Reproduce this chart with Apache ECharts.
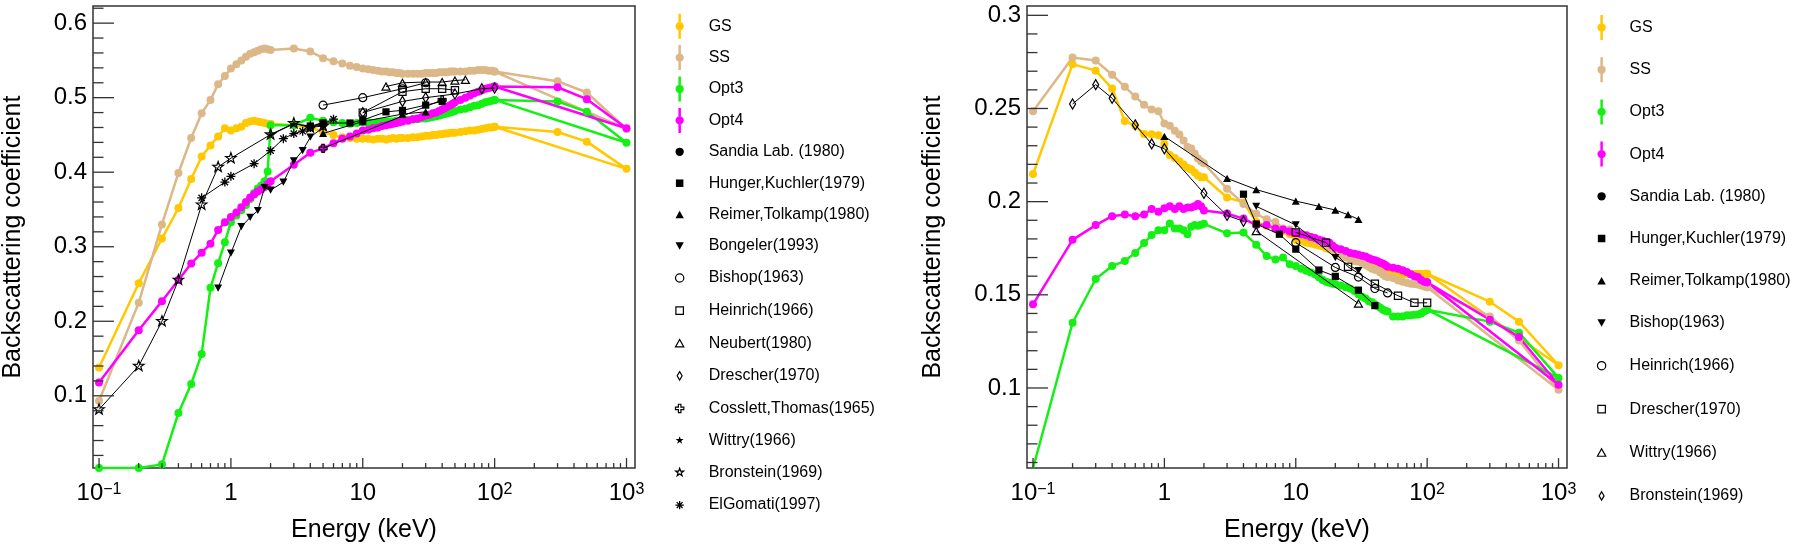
<!DOCTYPE html>
<html><head><meta charset="utf-8">
<script src="https://cdn.jsdelivr.net/npm/echarts@6/dist/echarts.min.js"></script>
<style>html,body{margin:0;padding:0;background:#fff}#c{width:1800px;height:548px}</style>
</head><body><div id="c"></div><script>
// ---------------- DATA ----------------
// Energy grid (keV) shared by the simulated curves
const energy = [0.1,0.2,0.3,0.4,0.5,0.6,0.7,0.8,0.9,
  1.0,1.1,1.2,1.3,1.4,1.5,1.6,1.7,1.8,1.9,
  2,3,4,5,6,7,8,9,
  10,11,12,13,14,15,16,17,18,19,20,
  22,24,26,28,30,32,34,36,38,40,42,44,46,48,50,
  55,60,65,70,75,80,85,90,95,100,
  300,500,1000];
const seriesNames = ['GS','SS','Opt3','Opt4'];

// Left panel (simulated)
const gsLeft = [0.138,0.251,0.311,0.352,0.391,0.421,0.436,0.448,0.459,
  0.456,0.459,0.461,0.466,0.468,0.469,0.468,0.467,0.466,0.465,
  0.465,0.463,0.460,0.454,0.450,0.447,0.446,0.445,
  0.445,0.445,0.444,0.445,0.445,0.444,0.445,0.446,0.445,0.446,0.446,
  0.446,0.447,0.447,0.448,0.449,0.449,0.450,0.450,0.451,0.451,0.452,0.452,0.453,0.453,0.453,
  0.454,0.455,0.456,0.456,0.457,0.458,0.459,0.460,0.460,0.461,
  0.454,0.441,0.4045];
const ssLeft = [0.093,0.225,0.330,0.399,0.446,0.479,0.497,0.518,0.529,
  0.539,0.545,0.550,0.555,0.559,0.561,0.563,0.565,0.566,0.565,
  0.564,0.566,0.562,0.553,0.549,0.546,0.543,0.541,
  0.539,0.538,0.537,0.536,0.535,0.535,0.534,0.534,0.533,0.533,0.532,
  0.532,0.532,0.532,0.532,0.533,0.533,0.533,0.533,0.534,0.534,0.534,0.534,0.535,0.535,0.535,
  0.535,0.535,0.536,0.536,0.537,0.537,0.537,0.536,0.536,0.535,
  0.522,0.507,0.458];
const opt3Left = [0.003,0.003,0.008,0.077,0.116,0.156,0.245,0.278,0.306,
  0.333,0.342,0.349,0.356,0.364,0.372,0.378,0.382,0.388,0.401,
  0.463,0.463,0.473,0.469,0.467,0.466,0.465,0.466,
  0.467,0.467,0.466,0.467,0.467,0.468,0.468,0.468,0.469,0.469,0.470,
  0.470,0.471,0.471,0.472,0.472,0.473,0.474,0.475,0.476,0.477,0.478,0.479,0.480,0.481,0.482,
  0.484,0.485,0.487,0.489,0.490,0.492,0.494,0.495,0.496,0.497,
  0.495,0.481,0.4395];
const opt4Left = [0.118,0.188,0.227,0.2555,0.2775,0.292,0.304,0.3225,0.333,
  0.340,0.346,0.353,0.360,0.366,0.370,0.374,0.377,0.380,0.384,
  0.388,0.410,0.426,0.432,0.439,0.445,0.448,0.452,
  0.456,0.457,0.459,0.460,0.462,0.463,0.464,0.465,0.466,0.467,0.468,
  0.469,0.471,0.472,0.474,0.476,0.477,0.479,0.480,0.482,0.484,0.486,0.488,0.490,0.492,0.494,
  0.497,0.500,0.503,0.506,0.508,0.510,0.512,0.513,0.514,0.515,
  0.514,0.498,0.459];

// Right panel (simulated)
const gsRight = [0.2148,0.2738,0.2703,0.2607,0.2433,0.2407,0.2363,0.2362,0.2357,
  0.231,0.225,0.2234,0.2217,0.220,0.2182,0.2174,0.2157,0.214,0.2131,
  0.2131,0.2022,0.1996,0.1891,0.187,0.1856,0.184,0.1825,
  0.1795,0.179,0.178,0.1775,0.177,0.1765,0.176,0.175,0.1745,0.174,0.1734,
  0.173,0.172,0.171,0.170,0.169,0.168,0.1675,0.167,0.166,0.165,0.1645,0.164,0.1635,0.163,0.1625,
  0.162,0.1615,0.161,0.161,0.1612,0.1612,0.1613,0.1613,0.1613,0.1613,
  0.1463,0.1356,0.1122];
const ssRight = [0.2485,0.2774,0.2757,0.2681,0.2616,0.2564,0.252,0.2494,0.2485,
  0.2419,0.2407,0.238,0.236,0.2328,0.2293,0.2285,0.2258,0.2232,0.2215,
  0.2206,0.2069,0.1988,0.1935,0.1905,0.1891,0.1856,0.185,
  0.1835,0.1825,0.1815,0.181,0.180,0.1785,0.1775,0.177,0.176,0.1745,0.1725,
  0.1715,0.170,0.169,0.168,0.1677,0.167,0.166,0.165,0.164,0.1635,0.163,0.162,0.161,0.160,0.1595,
  0.159,0.1577,0.157,0.1565,0.156,0.1558,0.1555,0.155,0.1545,0.154,
  0.1384,0.1255,0.099];
const opt3Right = [0.0569,0.135,0.1585,0.1655,0.1681,0.1725,0.1778,0.1821,0.1847,
  0.1847,0.1883,0.1856,0.1856,0.1847,0.1825,0.1865,0.1874,0.1870,0.1876,
  0.1881,0.183,0.1834,0.1769,0.1708,0.169,0.170,0.1664,
  0.1655,0.164,0.1629,0.162,0.161,0.1594,0.158,0.157,0.1565,0.156,0.1558,
  0.155,0.154,0.1533,0.152,0.1503,0.149,0.148,0.1466,0.146,0.145,0.144,0.143,0.142,0.1415,0.141,
  0.1384,0.1384,0.1384,0.139,0.139,0.1393,0.1395,0.140,0.141,0.142,
  0.1356,0.1297,0.1054];
const opt4Right = [0.1449,0.1795,0.1874,0.1922,0.1931,0.1922,0.1931,0.196,0.1946,
  0.1964,0.1975,0.196,0.1975,0.196,0.1968,0.1968,0.1975,0.1987,0.1975,
  0.1953,0.1936,0.1909,0.1874,0.1874,0.1856,0.185,0.184,
  0.183,0.1825,0.182,0.181,0.1805,0.1795,0.179,0.1785,0.178,0.1765,0.1752,
  0.1745,0.1735,0.1725,0.172,0.1715,0.171,0.1705,0.1696,0.169,0.1685,0.168,0.1672,0.1668,0.166,0.165,
  0.1645,0.164,0.1632,0.1622,0.161,0.160,0.1595,0.158,0.157,0.1567,
  0.1366,0.1274,0.1017];

// Experimental, left panel [E (keV), coefficient]
const sandiaL   = [];
const hungerL   = [[4,0.462],[5,0.466],[8,0.466],[10,0.470],[15,0.481],[20,0.483],[30,0.490],[40,0.495]];
const reimerL   = [[5,0.452],[10,0.468],[20,0.478],[30,0.481]];
const bongelerL = [[0.8,0.2445],[1.0,0.2913],[1.2,0.327],[1.4,0.3394],[1.6,0.3486],[1.8,0.3794],[2,0.376],[2.5,0.3867],[3,0.4151],[3.5,0.4289],[4,0.447],[5,0.460]];
const bishopL   = [[5,0.490],[10,0.500],[20,0.512],[30,0.520]];
const heinrichL = [[10,0.480],[20,0.508],[30,0.512],[40,0.512],[50,0.510]];
const neubertL  = [[15,0.515],[20,0.520],[30,0.521],[40,0.521],[50,0.523],[60,0.524]];
const drescherL = [[10,0.480],[20,0.495],[30,0.500],[50,0.505],[80,0.512],[100,0.513]];
const cosslettL = [[5,0.432],[40,0.497]];
const wittryL   = [[2,0.450],[3,0.465],[4,0.462]];
const bronsteinL= [[0.1,0.0817],[0.2,0.140],[0.3,0.200],[0.4,0.2555],[0.6,0.3564],[0.8,0.4069],[1.0,0.4188],[2,0.4505],[3,0.4656],[4,0.460],[5,0.462]];
const elgomatiL = [[0.6,0.3656],[0.9,0.3867],[1.0,0.3945],[1.5,0.4115],[2,0.4289],[2.5,0.445],[3,0.4518],[3.5,0.455],[4,0.460],[5,0.465],[6,0.4711]];

// Experimental, right panel
const sandiaR   = [];
const hungerR   = [[4,0.204],[5,0.188],[7.5,0.1825],[10,0.1745],[15,0.1633],[20,0.1599],[30,0.1525],[40,0.1442]];
const reimerR   = [[1,0.235],[3,0.2125],[5,0.2065],[10,0.2003],[15,0.1975],[20,0.1955],[25,0.193],[30,0.1905]];
const bishopR   = [[5,0.1975],[10,0.1875],[20,0.170],[30,0.163]];
const heinrichR = [[10,0.178],[20,0.1647],[30,0.1595],[40,0.1534],[50,0.151]];
const drescherR = [[10,0.1835],[17,0.178],[25,0.165],[40,0.156],[60,0.1495],[80,0.1457],[100,0.1457]];
const wittryR   = [[5,0.1842],[30,0.1453]];
const bronsteinR= [[0.2,0.2524],[0.3,0.2628],[0.4,0.2555],[0.6,0.2412],[0.8,0.231],[1,0.2284],[2,0.2045],[3,0.1926],[4,0.1895]];

// Axis tick labels / ranges
const xMajorTicks = [0.1, 1, 10, 100, 1000];
const yLeftMajor  = [0.1, 0.2, 0.3, 0.4, 0.5, 0.6];
const yRightMajor = [0.1, 0.15, 0.2, 0.25, 0.3];
const X_RANGE = [0.09, 1160];
const Y_LEFT = [0.003, 0.623];
const Y_RIGHT = [0.057, 0.305];

// ---------------- STYLE ----------------
const FONT = '"Liberation Sans", Arial, Helvetica, sans-serif';
const COLORS = {GS:'#ffc800', SS:'#dcb788', Opt3:'#14f014', Opt4:'#ff00ff'};
const FRAME = 'M0,0M10,10';
const SHAPE = {
  circle:  'M0,5A5,5 0 1,1 10,5A5,5 0 1,1 0,5Z',
  square:  'M0.5,0.5H9.5V9.5H0.5Z',
  triUp:   'M5,0.5L10,9.5L0,9.5Z',
  triDown: 'M0,0.5L10,0.5L5,9.5Z',
  diamond: 'M5,0L8,5L5,10L2,5Z',
  cross:   'M3.5,0H6.5V3.5H10V6.5H6.5V10H3.5V6.5H0V3.5H3.5Z',
  star:    'M5,0L6.18,3.38L9.76,3.45L6.9,5.62L7.94,9.05L5,7L2.06,9.05L3.1,5.62L0.24,3.45L3.82,3.38Z',
  aster:   'M5,0V10M0,5H10M1.5,1.5L8.5,8.5M8.5,1.5L1.5,8.5'
};
const LEG_FRAME = 'M-1,-10M11,20';
const ERRBAR = 'M3.5,-10H6.5V0H3.5Z M3.5,10H6.5V20H3.5Z ';

const expLeft = [
  ['Sandia Lab. (1980)', sandiaL, 'circle', 'fill', 8],
  ['Hunger,Kuchler(1979)', hungerL, 'square', 'fill', 8],
  ['Reimer,Tolkamp(1980)', reimerL, 'triUp', 'fill', 8],
  ['Bongeler(1993)', bongelerL, 'triDown', 'fill', 8],
  ['Bishop(1963)', bishopL, 'circle', 'open', 8],
  ['Heinrich(1966)', heinrichL, 'square', 'open', 8],
  ['Neubert(1980)', neubertL, 'triUp', 'open', 8],
  ['Drescher(1970)', drescherL, 'diamond', 'open', 10],
  ['Cosslett,Thomas(1965)', cosslettL, 'cross', 'open', 8],
  ['Wittry(1966)', wittryL, 'star', 'fill', 7],
  ['Bronstein(1969)', bronsteinL, 'star', 'open', 11],
  ['ElGomati(1997)', elgomatiL, 'aster', 'line', 9]
];
const expRight = [
  ['Sandia Lab. (1980)', sandiaR, 'circle', 'fill', 8],
  ['Hunger,Kuchler(1979)', hungerR, 'square', 'fill', 8],
  ['Reimer,Tolkamp(1980)', reimerR, 'triUp', 'fill', 8],
  ['Bishop(1963)', bishopR, 'triDown', 'fill', 8],
  ['Heinrich(1966)', heinrichR, 'circle', 'open', 8],
  ['Drescher(1970)', drescherR, 'square', 'open', 8],
  ['Wittry(1966)', wittryR, 'triUp', 'open', 8],
  ['Bronstein(1969)', bronsteinR, 'diamond', 'open', 10]
];

function markStyle(kind) {
  if (kind === 'fill') return {color:'#000', borderWidth:0};
  if (kind === 'open') return {color:'rgba(0,0,0,0)', borderColor:'#000', borderWidth:1.2};
  return {color:'rgba(0,0,0,0)', borderColor:'#000', borderWidth:1.3};
}

const series = [];
const legendLeft = [], legendRight = [];

function addSim(g, valuesList, legendArr) {
  const loopBack = energy.indexOf(100);
  seriesNames.forEach((nm, k) => {
    const vals = valuesList[k];
    const data = energy.map((e, i) => [e, vals[i]]);
    data.push([energy[loopBack], vals[loopBack]]);
    series.push({
      name: nm, type:'line', xAxisIndex:g, yAxisIndex:g, data,
      symbol:'circle', symbolSize:8, showSymbol:true, z:3,
      lineStyle:{color:COLORS[nm], width:2.5}, itemStyle:{color:COLORS[nm]},
      emphasis:{disabled:true}
    });
    legendArr.push({name:nm, icon:'path://' + LEG_FRAME + ERRBAR + SHAPE.circle,
      itemStyle:{color:COLORS[nm], borderWidth:0}});
  });
}
function addExp(g, list, legendArr) {
  list.forEach(([nm, data, shp, kind, size]) => {
    series.push({
      name: nm, type:'line', xAxisIndex:g, yAxisIndex:g, data,
      symbol:'path://' + FRAME + SHAPE[shp], symbolSize:size, showSymbol:true, z:5,
      lineStyle:{color:'#000', width:1}, itemStyle:markStyle(kind),
      emphasis:{disabled:true}
    });
    legendArr.push({name:nm, icon:'path://' + LEG_FRAME + SHAPE[shp], itemStyle:markStyle(kind)});
  });
}
addSim(0, [gsLeft, ssLeft, opt3Left, opt4Left], legendLeft);
addExp(0, expLeft, legendLeft);
addSim(1, [gsRight, ssRight, opt3Right, opt4Right], legendRight);
addExp(1, expRight, legendRight);

// ticks drawn through the axes' own scales
const xMinorTicks = [];
[0.1, 1, 10, 100].forEach(d => { for (let k = 2; k <= 9; k++) xMinorTicks.push(+(k*d).toPrecision(3)); });
function minorList(from, to, step, majors) {
  const out = [];
  for (let v = from; v <= to + 1e-9; v += step) {
    const r = +v.toFixed(4);
    if (!majors.some(m => Math.abs(m - r) < 1e-9)) out.push(r);
  }
  return out;
}
const yLeftMinor = minorList(0.02, 0.62, 0.02, yLeftMajor);
const yRightMinor = minorList(0.06, 0.30, 0.01, yRightMajor);

function tickSeries(g, dir, values, len, yMin) {
  return {
    type:'custom', xAxisIndex:g, yAxisIndex:g, silent:true, z:10, clip:false,
    data: values.map(v => dir === 'x' ? [v, yMin] : [X_RANGE[0], v]),
    renderItem(params, api) {
      const p = api.coord([api.value(0), api.value(1)]);
      const shape = dir === 'x' ? {x1:p[0], y1:p[1], x2:p[0], y2:p[1] - len}
                                : {x1:p[0], y1:p[1], x2:p[0] + len, y2:p[1]};
      return {type:'line', shape, style:{stroke:'#333', lineWidth:1.3}};
    }
  };
}
series.push(tickSeries(0,'x',xMajorTicks,10,Y_LEFT[0]), tickSeries(0,'x',xMinorTicks,5,Y_LEFT[0]),
  tickSeries(0,'y',yLeftMajor,21), tickSeries(0,'y',yLeftMinor,10.5),
  tickSeries(1,'x',xMajorTicks,10,Y_RIGHT[0]), tickSeries(1,'x',xMinorTicks,5,Y_RIGHT[0]),
  tickSeries(1,'y',yRightMajor,21), tickSeries(1,'y',yRightMinor,10.5));

function logLabel(v) {
  const l = Math.log10(v), k = Math.round(l);
  if (Math.abs(l - k) > 1e-6 || !xMajorTicks.some(t => Math.abs(Math.log10(t) - k) < 1e-9)) return '';
  if (k === 0) return '{b|1}';
  if (k === 1) return '{b|10}';
  return '{b|10}{s|' + (k < 0 ? '\u2212' + (-k) : k) + '}';
}
function xAxis(g) {
  return {
    gridIndex:g, type:'log', logBase:10, min:X_RANGE[0], max:X_RANGE[1],
    axisLine:{show:false}, axisTick:{show:false}, splitLine:{show:false}, minorTick:{show:false},
    axisLabel:{formatter:logLabel, margin:37, verticalAlign:'bottom', color:'#000',
      rich:{
        b:{fontSize:24, lineHeight:24, verticalAlign:'bottom', fontFamily:FONT, color:'#000'},
        s:{fontSize:16, lineHeight:16, padding:[0,0,16,0], verticalAlign:'top', fontFamily:FONT, color:'#000'}
      }},
    name:'Energy (keV)', nameLocation:'middle', nameGap:37,
    nameTextStyle:{fontSize:25, color:'#000', fontFamily:FONT}
  };
}
function yAxis(g, range, gap) {
  return {
    gridIndex:g, type:'value', min:range[0], max:range[1],
    axisLine:{show:false}, axisTick:{show:false}, splitLine:{show:false},
    axisLabel:{showMinLabel:false, showMaxLabel:false, fontSize:24, margin:6, color:'#000', fontFamily:FONT},
    name:'Backscattering coefficient', nameLocation:'middle', nameGap:gap, nameRotate:90,
    nameTextStyle:{fontSize:25, color:'#000', fontFamily:FONT}
  };
}

const legendBase = {
  orient:'vertical', itemWidth:10, itemHeight:25, selectedMode:false, symbolKeepAspect:true,
  textStyle:{fontSize:16, color:'#000', fontFamily:FONT}
};

const option = {
  animation:false,
  backgroundColor:'#fff',
  textStyle:{fontFamily:FONT},
  grid:[
    {left:93, right:1165, top:6, bottom:69, show:true, borderColor:'#333', borderWidth:1.5, backgroundColor:'rgba(0,0,0,0)'},
    {left:1027, right:233, top:6, bottom:69, show:true, borderColor:'#333', borderWidth:1.5, backgroundColor:'rgba(0,0,0,0)'}
  ],
  xAxis:[xAxis(0), xAxis(1)],
  yAxis:[yAxis(0, Y_LEFT, 67), yAxis(1, Y_RIGHT, 81)],
  legend:[
    Object.assign({}, legendBase, {left:669, top:8.7, itemGap:6.4, data:legendLeft,
      textStyle:Object.assign({}, legendBase.textStyle, {padding:[0,0,0,19]})}),
    Object.assign({}, legendBase, {left:1591, top:10, itemGap:17.2, data:legendRight,
      textStyle:Object.assign({}, legendBase.textStyle, {padding:[0,0,0,18]})})
  ],
  series
};
const chart = echarts.init(document.getElementById('c'), null, {renderer:'canvas'});
chart.setOption(option);
</script></body></html>
